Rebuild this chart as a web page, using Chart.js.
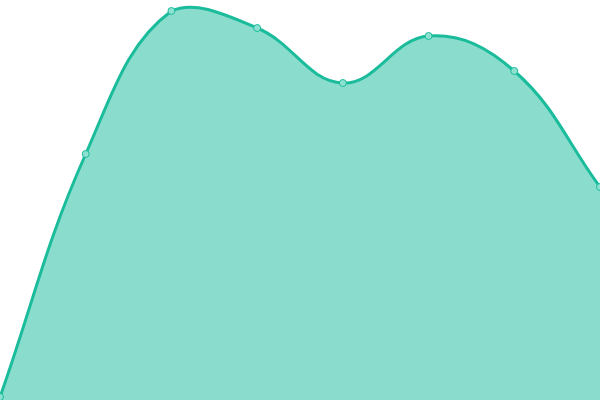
<!DOCTYPE html>
<html lang="en">
<head>
  <meta charset="UTF-8" />
  <title>Area chart</title>
  <script src="https://cdn.jsdelivr.net/npm/chart.js"></script>
  <style>
    html, body { margin: 0; padding: 0; background: #fff; }
    #wrap { width: 600px; height: 400px; }
  </style>
</head>
<body>
  <div id="wrap"><canvas id="areaChart"></canvas></div>
  <script>
    const labels = ['1', '2', '3', '4', '5', '6', '7', '8'];
    const values = [0.75, 61.5, 97.25, 93, 79.25, 91, 82.25, 53.25];

    new Chart(document.getElementById('areaChart').getContext('2d'), {
      type: 'line',
      data: {
        labels: labels,
        datasets: [{
          data: values,
          borderColor: '#1abc9c',
          backgroundColor: 'rgba(26,188,156,0.51)',
          borderWidth: 3,
          fill: 'start',
          tension: 0.4,
          pointRadius: 3.5,
          pointBackgroundColor: '#8ee0d0',
          pointBorderColor: '#1abc9c',
          pointBorderWidth: 1
        }]
      },
      options: {
        responsive: true,
        maintainAspectRatio: false,
        animation: false,
        layout: { padding: 0, autoPadding: false },
        plugins: { legend: { display: false }, tooltip: { enabled: false } },
        scales: {
          x: { display: false, offset: false },
          y: { display: false, min: 0, max: 100 }
        }
      }
    });
  </script>
</body>
</html>
